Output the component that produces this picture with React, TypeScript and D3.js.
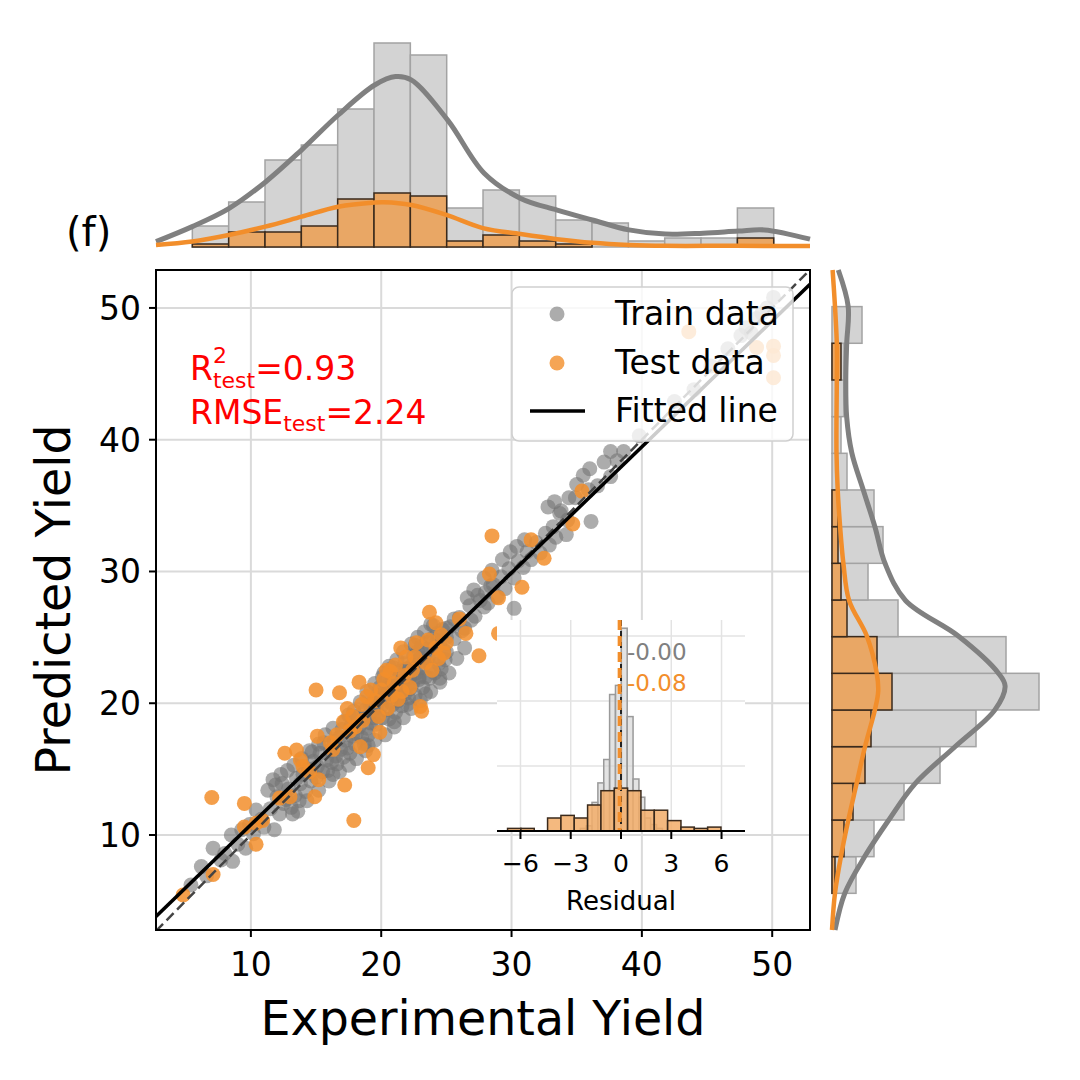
import React from "react";
import * as d3 from "d3";

// ---------- data ----------
const xDomain: [number, number] = [2.72, 52.9];
const yDomain: [number, number] = [2.79, 52.88];
const mainTicks = [10, 20, 30, 40, 50];

const trainPts: [number, number][] = [
  [5.4,6.2],[6.2,7.6],[6.6,6.9],[7.1,9.0],[7.7,8.1],[8.0,8.6],
  [8.5,10.0],[8.6,8.0],[9.0,9.3],[9.3,10.4],[9.6,9.0],[9.9,10.8],[10.2,10.1],[10.4,11.9],[10.8,11.2],[11.0,10.6],
  [11.3,13.4],[11.5,12.0],[11.7,14.2],[11.8,10.4],[12.0,12.9],[12.2,11.6],[12.4,13.9],[12.5,12.4],[12.7,12.7],[12.9,13.5],[13.1,12.1],[13.2,11.6],[13.4,13.0],[13.5,14.3],[13.7,12.6],[13.8,13.9],
  [14.0,14.6],[14.2,13.3],[14.4,15.0],[14.6,14.1],[14.8,15.6],[15.0,14.4],[15.1,15.2],[15.3,16.2],[15.5,14.8],[15.6,17.0],[15.8,15.7],[15.9,14.9],[16.1,16.4],[16.2,15.5],[16.4,17.1],[16.5,16.0],[16.6,15.4],[16.3,14.6],[14.7,16.3],
  [16.8,17.4],[16.9,16.5],[17.0,18.0],[17.1,15.9],[17.3,17.2],[17.4,16.6],[17.6,16.2],[17.7,18.3],[17.8,17.5],[18.0,16.9],[18.1,17.7],[18.2,19.0],[18.3,18.2],[18.5,17.4],[18.6,18.8],[18.7,16.9],[18.8,19.5],[18.9,18.1],[19.0,17.6],[19.1,19.2],[19.2,18.5],[19.3,20.0],[19.4,18.9],[17.5,19.1],[19.0,16.8],
  [19.6,19.7],[19.6,18.4],[19.7,20.6],[19.8,19.1],[19.9,21.2],[20.0,19.8],[20.1,18.9],[20.2,20.4],[20.3,21.6],[20.4,19.5],[20.5,20.9],[20.6,18.8],[20.7,20.1],[20.8,21.9],[20.9,19.9],[21.0,20.6],[21.1,19.3],[21.2,21.3],[21.3,20.2],[21.4,22.4],[21.5,21.0],[21.6,19.8],[21.7,21.7],[21.8,20.7],[21.9,22.6],[22.0,21.3],[22.1,20.4],[22.2,22.0],[20.2,22.3],[21.0,18.6],[21.8,23.0],[22.0,19.9],[20.6,21.4],[19.8,20.2],[21.4,20.5],[22.2,21.1],[20.9,22.7],
  [22.4,22.9],[22.4,21.5],[22.5,23.6],[22.6,20.6],[22.7,22.3],[22.8,23.9],[22.9,21.8],[23.0,22.7],[23.1,24.3],[23.2,21.2],[23.3,23.2],[23.4,22.0],[23.5,24.6],[23.6,23.5],[23.7,21.9],[23.8,22.8],[23.9,24.9],[24.0,23.4],[24.1,22.3],[24.2,24.2],[24.3,25.3],[24.4,23.0],[24.5,24.6],[24.6,22.6],[24.7,25.6],[24.8,24.0],[24.9,23.3],[25.0,25.0],[22.6,24.4],[23.4,20.7],[24.0,25.9],[24.5,21.9],[23.0,23.4],[25.0,23.9],[22.9,22.0],
  [25.3,25.8],[25.6,24.9],[26.0,26.5],[26.4,25.7],[26.8,27.4],[27.2,26.6],[27.6,27.8],
  [28.0,28.4],[28.2,27.6],[28.6,29.0],[28.9,28.1],[29.2,29.6],[29.5,28.7],[29.8,30.2],[30.2,27.2],[30.2,29.5],[30.5,30.8],
  [30.9,30.3],[31.2,31.5],[31.5,30.9],[31.9,32.2],[32.2,31.4],[32.6,32.9],[32.9,32.0],[33.2,33.4],[33.4,32.6],
  [33.8,34.6],[34.3,33.9],[34.9,35.6],[36.1,33.8],[35.9,36.2],
  [36.6,36.5],[37.1,38.3],[37.6,37.2],[37.6,39.1],[38.1,38.4],[38.6,39.1],
  [39.8,40.3],[42.5,42.9],[44.0,43.8],[45.3,45.6],[46.6,46.9],
  [47.6,47.9],[48.0,48.5],[48.4,48.1],[48.8,49.2],[49.2,49.6],[49.6,50.0],[50.1,50.8],
  [11.9,13.8],[12.3,14.6],[12.8,14.9],[13.3,15.3],[13.9,15.8],[14.5,16.4],[15.2,16.9],[15.7,17.6],[16.3,18.1],
  [13.6,11.8],[14.3,12.6],[15.2,13.4],[16.0,14.1],[16.8,14.8],[17.5,15.3],
  [17.2,18.6],[17.9,19.4],[18.4,20.1],[18.9,20.9],[19.5,21.5],[20.1,22.0],[20.6,22.8],[21.2,23.3],[21.7,23.9],[22.3,24.5],[22.8,25.0],[23.3,25.4],[23.8,26.0],
  [18.1,15.8],[18.8,16.4],[19.5,17.2],[20.3,17.6],[21.0,18.2],[21.7,18.9],[22.3,19.6],[23.0,20.2],[23.8,20.9],[24.5,21.6],[25.2,22.3],[25.8,23.4],[26.4,24.2],
  [19.2,19.8],[19.9,20.5],[20.5,21.1],[21.3,21.8],[22.0,22.6],[22.7,23.2],[23.5,24.1],[24.3,24.8],[25.0,25.7],[25.6,26.4],[26.2,25.5],[26.9,26.3],[27.4,28.2],[27.9,27.3],[28.4,28.9],
  [29.3,30.9],[29.9,31.5],[30.4,31.9],[31.0,32.4],[27.9,29.5],[28.5,30.1],[26.6,28.0],[27.1,28.6],
  [32.8,34.9],[33.3,35.3],[33.7,34.4],[34.4,35.6],[35.0,36.6],[35.5,37.3],[36.0,37.8],[34.2,32.8]
];

const testPts: [number, number][] = [
  [4.8,5.45],[7.1,7.0],[7.0,12.85],[9.5,12.4],[9.5,10.6],[10.4,10.9],[10.4,9.3],[10.9,11.1],[12.6,16.2],[13.0,12.9],
  [13.5,16.45],[14.0,15.2],[14.9,12.9],[15.2,14.2],[15.0,21.0],[15.1,17.5],[16.1,17.0],[16.8,20.8],[17.2,13.8],[17.9,11.1],
  [17.4,19.6],[18.3,21.6],[18.4,16.7],[18.9,20.5],[19.0,15.1],[19.4,16.1],[19.9,17.8],[20.2,21.8],[20.7,22.4],[21.5,24.2],
  [22.6,23.5],[23.0,19.75],[23.1,19.4],[23.7,26.9],[24.2,26.1],[24.2,24.2],[24.8,23.8],[26.5,25.3],[27.5,23.6],[28.3,29.8],
  [28.5,32.7],[29.0,28.0],[29.0,25.3],[30.8,28.8],[31.5,32.4],[32.5,31.0],[34.7,33.6],[35.4,36.1],[43.6,48.2],[48.8,47.0],
  [50.1,47.1],[50.1,46.4],[50.1,44.7],
  [19.5,20.2],[20.0,21.0],[20.5,19.6],[21.0,21.5],[21.3,20.3],[21.8,22.1],[22.2,21.2],[19.8,19.0],[20.8,20.6],[22.4,22.5],
  [23.4,23.1],[21.6,20.9],[18.6,18.7],[18.0,18.2],[17.6,17.9],[16.3,16.5],[14.5,14.8],[13.8,15.7],[12.2,12.8],[23.9,22.5],
  [25.0,24.6],[26.0,26.4],[24.6,25.2],
  [16.6,17.6],[17.1,18.6],[17.8,19.0],[18.5,19.9],[19.2,21.0],[20.4,22.5],[21.1,22.9],[21.9,23.5],[22.7,24.6],[23.6,24.8],[24.4,23.4]
];

const fitSlope = 0.956;
const fitIntercept = 1.22;

// marginal histograms (18 bins spanning each axis)
const topBinStart = 2.72, topBinWidth = 2.788;
const topTrainCounts = [0,7,15,29,34,46,68,64,13,19,17,9,8,2,3,3,13,0];
const topTestCounts  = [0,1,5,5,7,16,18,17,2,4,2,1,0,0,0,0,3,0];
const rightBinStart = 2.79, rightBinWidth = 2.783;
const rightTrainCounts = [0,8,14,24,36,48,69,58,22,12,17,14,5,3,4,4,10,0];
const rightTestCounts  = [0,1,4,7,11,13,20,15,5,3,2,2,0,0,0,3,0,0];

// KDE curves (value, scaled density)
const topTrainKde: [number, number][] = [[2.72,1.8],[5.5,6.8],[8.3,12.8],[11.1,21.6],[13.9,32.4],[16.7,44.0],[19.5,54.0],[21.1,56.8],[22.3,55.7],[25.1,42.3],[27.9,24.6],[30.7,16.2],[33.5,12.3],[36.2,9.0],[39.0,5.7],[41.8,4.3],[44.7,4.6],[47.4,5.3],[49.4,5.7],[52.9,2.6]];
const topTestKde: [number, number][] = [[2.72,0.7],[5.5,1.8],[8.3,4.0],[11.1,6.8],[13.9,10.1],[16.7,13.4],[19.5,14.8],[20.2,14.9],[22.3,14.0],[25.0,10.7],[27.8,6.3],[30.7,4.3],[33.5,2.6],[36.2,1.4],[39.0,0.7],[41.8,0.4],[47.2,0.4],[52.9,0.3]];
const rightTrainKde: [number, number][] = [[52.88,2.1],[50.1,5.4],[47.3,4.9],[44.5,4.6],[41.7,4.9],[39.0,6.6],[36.2,10.4],[33.4,14.3],[30.6,17.7],[27.8,24.5],[25.1,42.1],[22.3,55.4],[21.3,57.7],[19.5,54.3],[16.7,41],[13.9,27.7],[11.1,18.8],[8.4,11],[5.6,4.3],[2.79,1]];
const rightTestKde: [number, number][] = [[52.88,0.2],[50.1,1.0],[47.3,1.6],[44.5,1.6],[41.7,1.5],[39.0,1.5],[36.2,1.9],[33.4,2.7],[30.6,3.8],[27.8,5.7],[25.1,11.6],[22.3,14.9],[20.9,15.4],[19.5,14.3],[16.7,11],[13.9,8.2],[11.1,5.4],[8.4,3],[5.6,1],[2.79,0]];

// residual inset
const residTicks = [-6, -3, 0, 3, 6];
const residGrid = [25, 50, 75];
const residTrainStart = -2.43, residTrainWidth = 0.35;
const residTrainCounts = [1,2,11,18.5,27.5,52.5,56,78,44,20,13,5,2.5,1];
const residTestStart = -6.77, residTestWidth = 0.796;
const residTestCounts = [1,1,0,5,6,5,10,15.5,16.5,15.5,8,8,4,1.5,1,1.5];
const meanTrain = -0.0;
const meanTest = -0.08;

// ---------- styling ----------
const FONT = "DejaVu Sans, Liberation Sans, sans-serif";
const GREY_BAR = "#d3d3d3";
const ORANGE_BAR = "#e9a765";
const GREY_LINE = "#808080";
const ORANGE = "#f28e2b";

export default function App() {
  const L = 156, R = 810, T = 270, B = 930;
  const x = d3.scaleLinear().domain(xDomain).range([L, R]);
  const y = d3.scaleLinear().domain(yDomain).range([B, T]);

  const topBase = 247;
  const hTop = d3.scaleLinear().domain([0, 70]).range([topBase, topBase - 210]);
  const rightBase = 832;
  const wRight = d3.scaleLinear().domain([0, 70]).range([rightBase, rightBase + 210]);

  const iL = 497, iR = 745, iT = 620, iB = 831;
  const ix = d3.scaleLinear().domain([-7.4, 7.4]).range([iL, iR]);
  const iy = d3.scaleLinear().domain([0, (iB - iT) / 2.6]).range([iB, iT]);

  const topLine = d3.line<[number, number]>().x(d => x(d[0])).y(d => hTop(d[1])).curve(d3.curveCatmullRom);
  const rightLine = d3.line<[number, number]>().x(d => wRight(d[1])).y(d => y(d[0])).curve(d3.curveCatmullRom);

  const topBars = (counts: number[], fill: string, stroke: string) =>
    counts.map((c, i) => {
      if (c <= 0) return null;
      const x0 = x(topBinStart + i * topBinWidth), x1 = x(topBinStart + (i + 1) * topBinWidth);
      return <rect key={i} x={x0} y={hTop(c)} width={x1 - x0} height={topBase - hTop(c)} fill={fill} stroke={stroke} strokeWidth={1.5} />;
    });
  const rightBars = (counts: number[], fill: string, stroke: string) =>
    counts.map((c, i) => {
      if (c <= 0) return null;
      const y0 = y(rightBinStart + (i + 1) * rightBinWidth), y1 = y(rightBinStart + i * rightBinWidth);
      return <rect key={i} x={rightBase} y={y0} width={wRight(c) - rightBase} height={y1 - y0} fill={fill} stroke={stroke} strokeWidth={1.5} />;
    });
  const insetBars = (counts: number[], start: number, w: number, fill: string, stroke: string, op: number) =>
    counts.map((c, i) => {
      if (c <= 0) return null;
      const x0 = ix(start + i * w), x1 = ix(start + (i + 1) * w);
      return <rect key={i} x={x0} y={iy(c)} width={x1 - x0} height={iB - iy(c)} fill={fill} fillOpacity={op} stroke={stroke} strokeWidth={1.5} />;
    });

  const fitY = (v: number) => fitIntercept + fitSlope * v;

  return (
    <svg width={1080} height={1080} style={{ display: "block", position: "absolute", left: 0, top: 0 }} fontFamily={FONT}>
      <rect width={1080} height={1080} fill="#fff" />
      <defs>
        <clipPath id="mainClip"><rect x={L} y={T} width={R - L} height={B - T} /></clipPath>
      </defs>

      {/* top marginal */}
      <g>
        {topBars(topTrainCounts, GREY_BAR, "#a3a3a3")}
        {topBars(topTestCounts, ORANGE_BAR, "#3a2a1c")}
        <path d={topLine(topTrainKde) || ""} fill="none" stroke={GREY_LINE} strokeWidth={5} />
        <path d={topLine(topTestKde) || ""} fill="none" stroke={ORANGE} strokeWidth={4.5} />
      </g>
      {/* right marginal */}
      <g>
        {rightBars(rightTrainCounts, GREY_BAR, "#a3a3a3")}
        {rightBars(rightTestCounts, ORANGE_BAR, "#3a2a1c")}
        <path d={rightLine(rightTrainKde) || ""} fill="none" stroke={GREY_LINE} strokeWidth={5} />
        <path d={rightLine(rightTestKde) || ""} fill="none" stroke={ORANGE} strokeWidth={4.5} />
      </g>

      <text x={66} y={246} fontSize={40} fill="#000">(f)</text>

      {/* main grid */}
      <g stroke="#dadada" strokeWidth={2}>
        {mainTicks.map(t => <line key={"gx" + t} x1={x(t)} x2={x(t)} y1={T} y2={B} />)}
        {mainTicks.map(t => <line key={"gy" + t} x1={L} x2={R} y1={y(t)} y2={y(t)} />)}
      </g>

      {/* points and lines */}
      <g clipPath="url(#mainClip)">
        {trainPts.map((p, i) => <circle key={"tr" + i} cx={x(p[0])} cy={y(p[1])} r={7.5} fill="#757575" fillOpacity={0.6} />)}
        {testPts.map((p, i) => <circle key={"te" + i} cx={x(p[0])} cy={y(p[1])} r={7.5} fill={ORANGE} fillOpacity={0.85} />)}
        <line x1={x(xDomain[0])} y1={y(xDomain[0])} x2={x(xDomain[1])} y2={y(xDomain[1])} stroke="#444" strokeWidth={2.5} strokeDasharray="10 5" />
        <line x1={x(xDomain[0])} y1={y(fitY(xDomain[0]))} x2={x(xDomain[1])} y2={y(fitY(xDomain[1]))} stroke="#000" strokeWidth={3.5} />
      </g>

      {/* R2 / RMSE text */}
      <text x={190} y={380} fontSize={33} fill="#ff0000">
        R<tspan dy={-17} fontSize={22}>2</tspan><tspan dx={-14} dy={25} fontSize={22}>test</tspan><tspan dy={-8} fontSize={33}>=0.93</tspan>
      </text>
      <text x={190} y={424} fontSize={33} fill="#ff0000">
        RMSE<tspan dy={7} fontSize={22}>test</tspan><tspan dy={-7} fontSize={33}>=2.24</tspan>
      </text>

      {/* legend */}
      <g>
        <rect x={512} y={287} width={281} height={154} rx={7} fill="#fff" fillOpacity={0.8} stroke="#cfcfcf" strokeWidth={1.5} />
        <circle cx={557} cy={314} r={7.5} fill="#757575" fillOpacity={0.6} />
        <circle cx={557} cy={363} r={7.5} fill={ORANGE} fillOpacity={0.8} />
        <line x1={530} x2={585} y1={411} y2={411} stroke="#000" strokeWidth={3.5} />
        <text x={615} y={325} fontSize={33}>Train data</text>
        <text x={615} y={374} fontSize={33}>Test data</text>
        <text x={615} y={422} fontSize={33}>Fitted line</text>
      </g>

      {/* inset residual histogram */}
      <g>
        <rect x={iL} y={iT} width={iR - iL} height={iB - iT} fill="#fff" />
        <g stroke="#e3e3e3" strokeWidth={1.5}>
          {residTicks.map(t => <line key={"ig" + t} x1={ix(t)} x2={ix(t)} y1={iT} y2={iB} />)}
          {residGrid.map(t => <line key={"igy" + t} x1={iL} x2={iR} y1={iy(t)} y2={iy(t)} />)}
        </g>
        {insetBars(residTrainCounts, residTrainStart, residTrainWidth, "#d0d0d0", "#9a9a9a", 0.6)}
        {insetBars(residTestCounts, residTestStart, residTestWidth, "#f2ad68", "#3a2a1c", 0.85)}
        <line x1={ix(meanTrain)} x2={ix(meanTrain)} y1={iT} y2={iB} stroke="#222" strokeWidth={2} strokeDasharray="6 5" />
        <line x1={ix(meanTest)} x2={ix(meanTest)} y1={iT} y2={iB} stroke={ORANGE} strokeWidth={4} strokeDasharray="10 6" />
        <text x={627} y={660} fontSize={23} fill="#808080">-0.00</text>
        <text x={627} y={691} fontSize={23} fill={ORANGE}>{meanTest.toFixed(2)}</text>
        <line x1={iL} x2={iR} y1={iB} y2={iB} stroke="#000" strokeWidth={2} />
        {residTicks.map(t => (
          <g key={"it" + t}>
            <line x1={ix(t)} x2={ix(t)} y1={iB} y2={iB + 8} stroke="#000" strokeWidth={2} />
            <text x={ix(t)} y={872} fontSize={25} textAnchor="middle">{t < 0 ? "\u2212" + Math.abs(t) : String(t)}</text>
          </g>
        ))}
        <text x={ix(0)} y={910} fontSize={26} textAnchor="middle">Residual</text>
      </g>

      {/* main frame + ticks */}
      <rect x={L} y={T} width={R - L} height={B - T} fill="none" stroke="#000" strokeWidth={2} />
      {mainTicks.map(t => (
        <g key={"tx" + t}>
          <line x1={x(t)} x2={x(t)} y1={B} y2={B + 7} stroke="#000" strokeWidth={2} />
          <text x={x(t)} y={976} fontSize={33} textAnchor="middle">{t}</text>
          <line x1={L - 7} x2={L} y1={y(t)} y2={y(t)} stroke="#000" strokeWidth={2} />
          <text x={141} y={y(t) + 12} fontSize={33} textAnchor="end">{t}</text>
        </g>
      ))}
      <text x={(L + R) / 2} y={1035} fontSize={47.5} textAnchor="middle">Experimental Yield</text>
      <text transform={`translate(70, ${(T + B) / 2}) rotate(-90)`} fontSize={47.5} textAnchor="middle">Predicted Yield</text>
    </svg>
  );
}
